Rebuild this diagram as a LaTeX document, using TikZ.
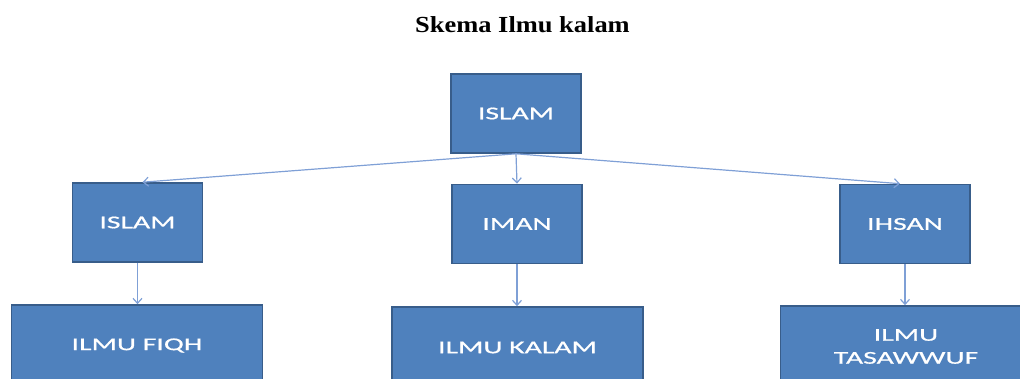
\documentclass[tikz,border=0pt]{standalone}
\usepackage{fontspec}
\usetikzlibrary{arrows.meta}
\newfontfamily\boxfont[FakeStretch=1.65,FakeBold=0.8]{Carlito}
\newfontfamily\titlefont[FakeStretch=1.15]{Liberation Serif}
\definecolor{boxfill}{HTML}{4F81BD}
\definecolor{boxline}{HTML}{385D8A}
\definecolor{conn}{HTML}{7FA0D6}
\tikzset{
  box/.style={draw=boxline, line width=1.6pt, fill=boxfill, text=white,
    font=\boxfont\fontsize{18}{24}\selectfont, align=center, inner sep=0pt},
  smallbox/.style={box, minimum width=130pt, minimum height=79pt},
  bigbox/.style={box, minimum width=251pt, minimum height=81pt},
  conn/.style={draw=conn, line width=1.2pt, -{Straight Barb[length=5pt,width=9pt]}}
}
\begin{document}
\begin{tikzpicture}[x={(1pt,0)}, y={(0,-1pt)}]
\useasboundingbox (0,0) rectangle (1020,379);
\clip (0,0) rectangle (1020,379);
\node[font=\titlefont\bfseries\fontsize{23}{27}\selectfont, inner sep=0pt] (title) at (522.5,25) {Skema Ilmu kalam};
\node[smallbox] (top) at (516,113.5) {ISLAM};
\node[smallbox] (islam) at (137.5,222.5) {ISLAM};
\node[smallbox] (iman) at (517,224) {IMAN};
\node[smallbox] (ihsan) at (905,224) {IHSAN};
\node[bigbox] (fiqh) at (137,345.5) {ILMU FIQH};
\node[bigbox] (kalam) at (517.5,347.5) {ILMU KALAM};
\node[bigbox] (tasawwuf) at (906,346.5) {ILMU\\[-1pt]TASAWWUF};
\draw[conn] (top.south) -- ([xshift=5pt]islam.north);
\draw[conn] (top.south) -- (iman.north);
\draw[conn] (top.south) -- ([xshift=-5pt]ihsan.north);
\draw[conn] (islam.south) -- (islam.south |- fiqh.north);
\draw[conn] (iman.south) -- (iman.south |- kalam.north);
\draw[conn] (ihsan.south) -- (ihsan.south |- tasawwuf.north);
\end{tikzpicture}
\end{document}
